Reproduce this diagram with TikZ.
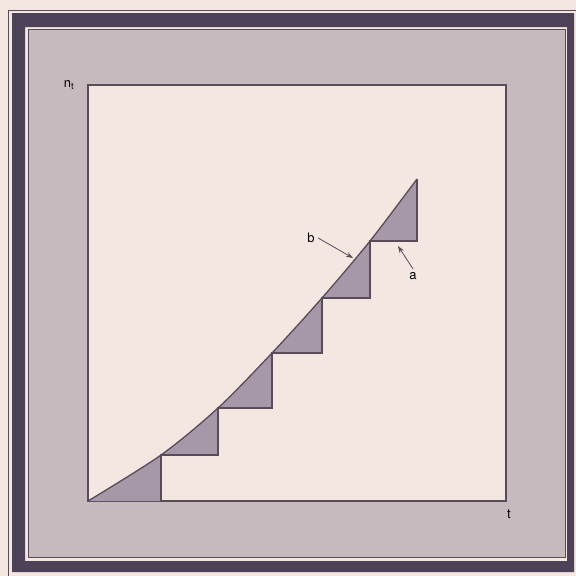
\documentclass[tikz,border=0pt]{standalone}
\usepackage{fontspec}
\setmainfont{TeX Gyre Heros}
\usetikzlibrary{arrows.meta}
\definecolor{paper}{RGB}{244,231,225}
\definecolor{bandgray}{RGB}{198,186,191}
\definecolor{darkband}{RGB}{78,66,88}
\definecolor{stepfill}{RGB}{166,152,168}
\definecolor{inkline}{RGB}{88,76,88}

\begin{document}
\begin{tikzpicture}[x=1pt, y=-1pt, font=\fontsize{13}{15}\selectfont,
    label arrow/.style={inkline, line width=0.8pt, -{Stealth[length=7pt, width=5pt]}}]
        % Page and frame
        \fill[paper] (0,0) rectangle (576,576);
        \useasboundingbox (0,0) rectangle (576,576);
        \draw[inkline, line width=0.8pt] (8,576) -- (8,10) -- (576,10);
        \fill[darkband, even odd rule] (12,13) rectangle (574,572) (25,27) rectangle (567,561);
        \draw[inkline, fill=bandgray, line width=0.8pt] (28,29) rectangle (565,557);

        % Plot area
        \draw[inkline, fill=paper, line width=1.2pt] (88,85) rectangle (506,501);
        \node (nt) at (69,85) {n\textsubscript{t}};
        \node (t) at (509,514) {t};

        % Steps under the curve
        \fill[stepfill] plot[smooth] coordinates {(88,501) (161,455) (218,408) (272,353) (322,298) (370,241) (417,179)}
            -- (417,241) -- (370,241) -- (370,298) -- (322,298) -- (322,353) -- (272,353)
            -- (272,408) -- (218,408) -- (218,455) -- (161,455) -- (161,501) -- cycle;
        \draw[inkline, line width=1.1pt] (417,179) -- (417,241) -- (370,241) -- (370,298) -- (322,298)
            -- (322,353) -- (272,353) -- (272,408) -- (218,408) -- (218,455) -- (161,455) -- (161,501);

        % Curve
        \draw[inkline, line width=1.3pt] plot[smooth] coordinates {(88,501) (161,455) (218,408) (272,353) (322,298) (370,241) (417,179)};

        % Labels
        \node (b) at (311,238) {b};
        \coordinate (btip) at (353,258);
        \draw[label arrow] (b.east) -- (btip);
        \node (a) at (413,276) {a};
        \coordinate (atip) at (398,246);
        \draw[label arrow] (a.north) -- (atip);
    \end{tikzpicture}
\end{document}
